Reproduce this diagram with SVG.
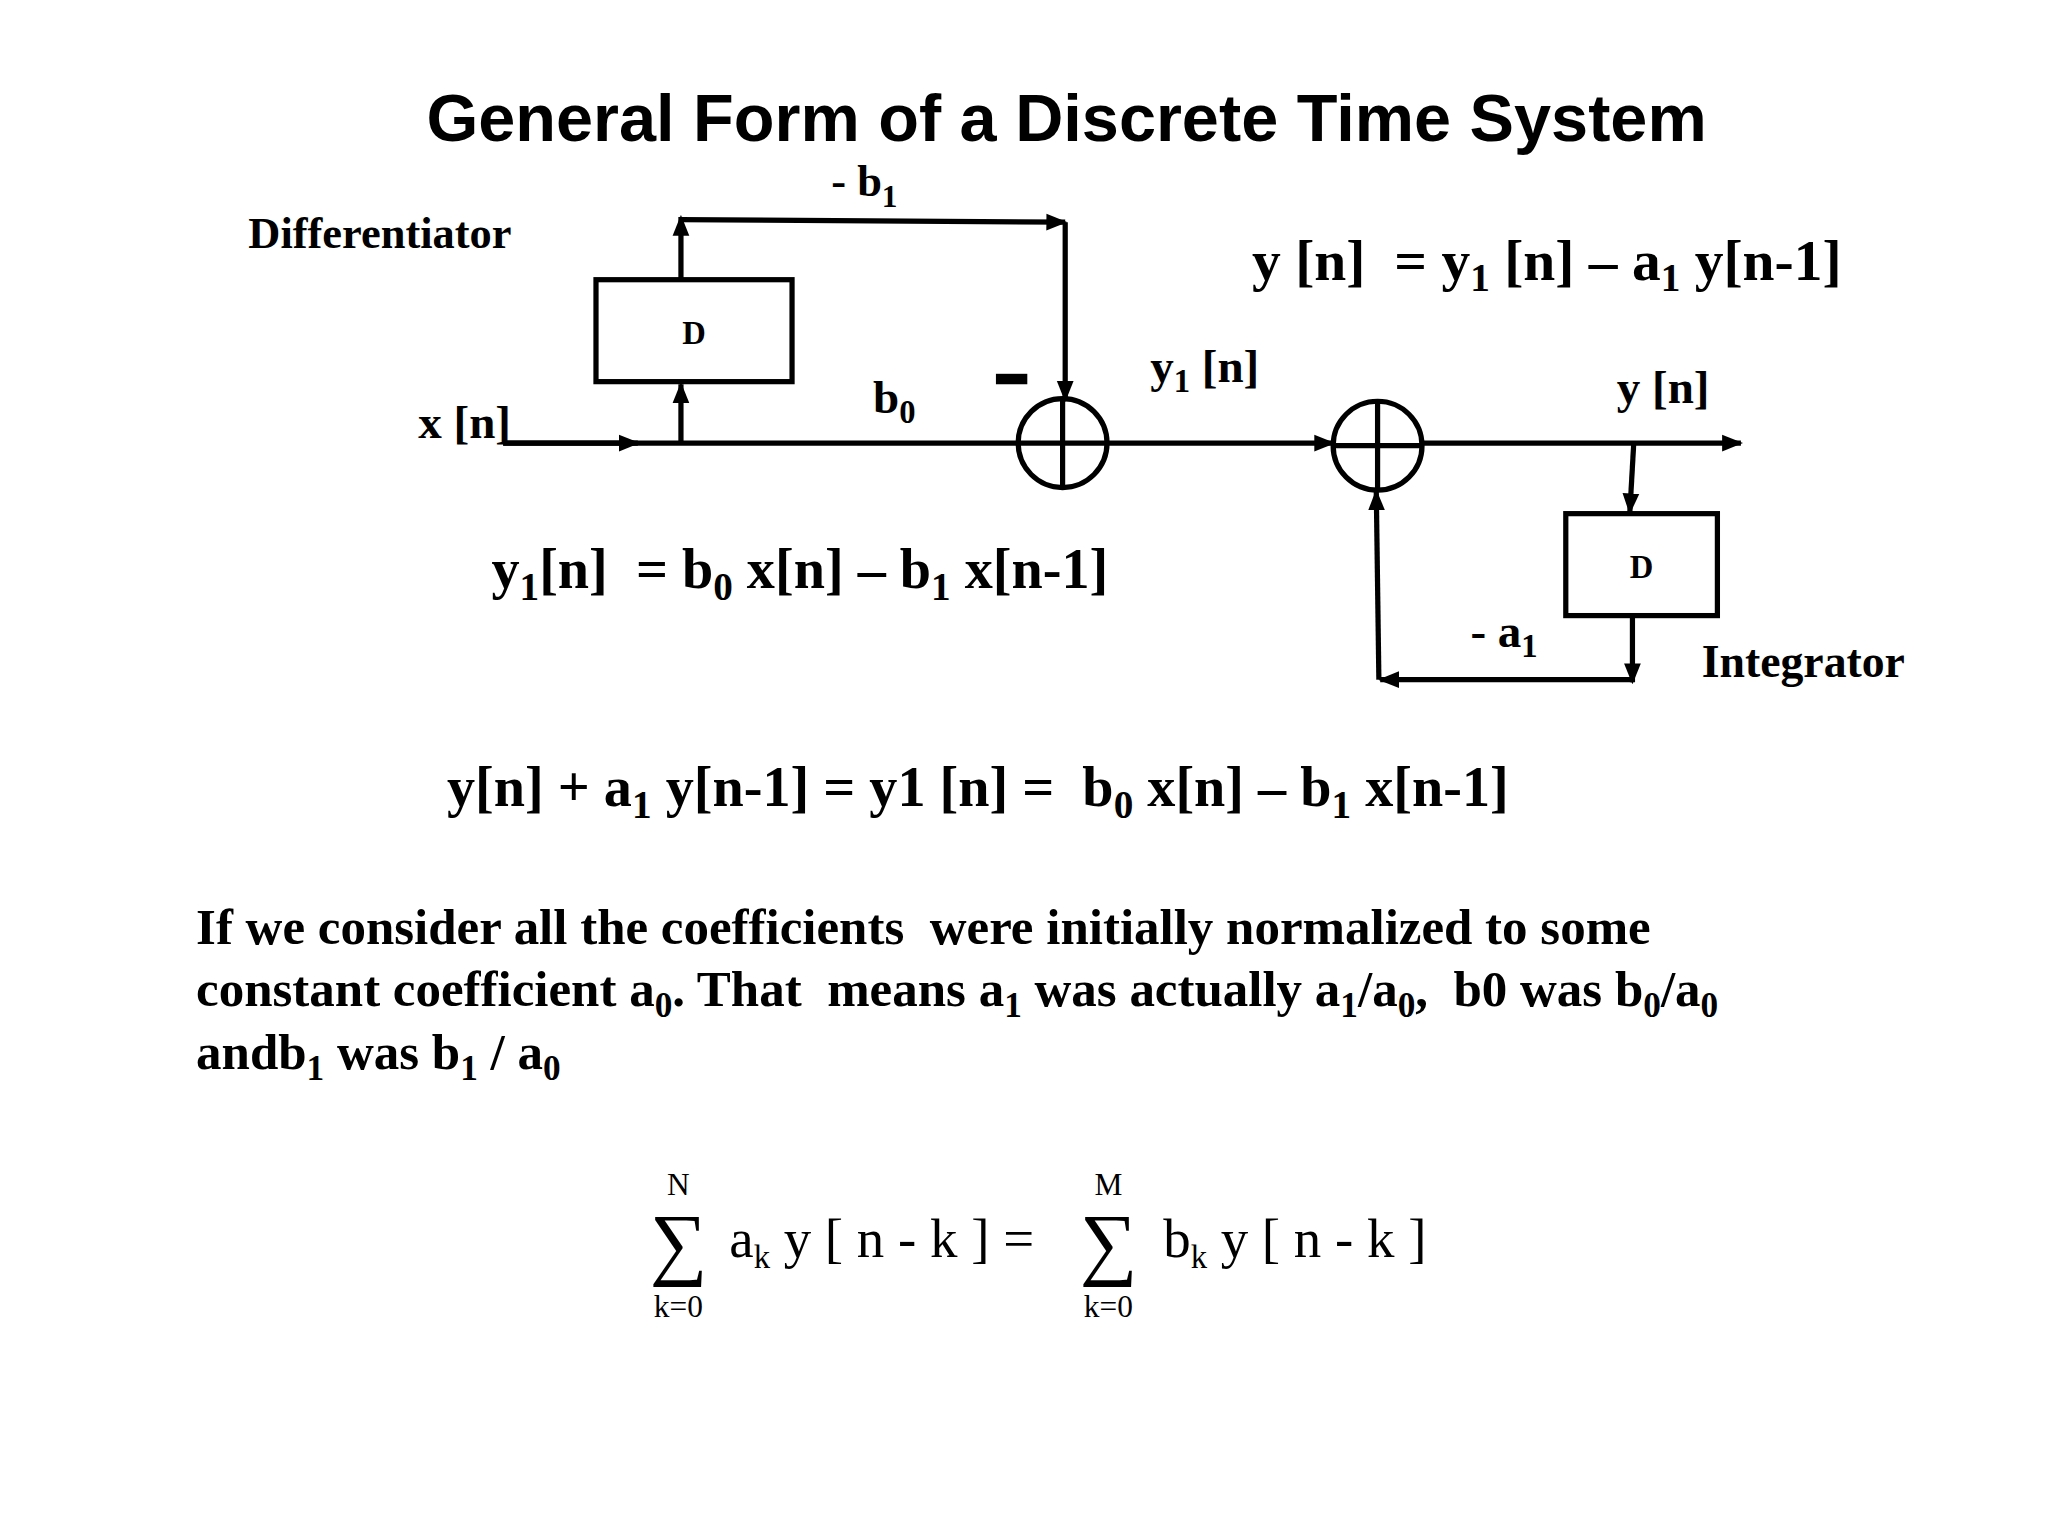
<svg xmlns="http://www.w3.org/2000/svg" width="2048" height="1536" viewBox="0 0 2048 1536">
<defs>
<marker id="ah" viewBox="0 0 10 10" refX="9" refY="5" markerWidth="4" markerHeight="4" orient="auto"><path d="M0,1 L10,5 L0,9 z" fill="#000"/></marker>
<style>
.t{font-family:"Liberation Serif",serif;font-weight:bold;fill:#000}
.r{font-family:"Liberation Serif",serif;fill:#000}
.l{stroke:#000;stroke-width:4;fill:none}
.a{stroke:#000;stroke-width:4;fill:none;marker-end:url(#ah)}
</style>
</defs>
<rect width="2048" height="1536" fill="#fff"/>
<g transform="scale(1.307)">
<text x="816" y="108" text-anchor="middle" font-family="Liberation Sans,Arial,sans-serif" font-weight="bold" font-size="51">General Form of a Discrete Time System</text>
<g id="conn">
<line class="l" x1="385" y1="339" x2="778" y2="339"/>
<line class="a" x1="385" y1="339" x2="488" y2="339"/>
<line class="a" x1="521" y1="339" x2="521" y2="294"/>
<line class="a" x1="521" y1="214" x2="521" y2="166"/>
<line class="a" x1="521" y1="168" x2="815" y2="170"/>
<line class="a" x1="815" y1="170" x2="815" y2="306"/>
<line class="a" x1="847" y1="339" x2="1020" y2="339"/>
<line class="a" x1="1088" y1="339" x2="1332" y2="339"/>
<line class="a" x1="1250" y1="339" x2="1247" y2="392"/>
<line class="a" x1="1249" y1="471" x2="1249" y2="522"/>
<line class="a" x1="1249" y1="520" x2="1056" y2="520"/>
<line class="a" x1="1055" y1="520" x2="1053" y2="376"/>
</g>
<g id="d1"><rect class="l" x="456" y="214" width="150" height="78"/><text class="t" x="531" y="263" font-size="25" text-anchor="middle">D</text></g>
<g id="d2"><rect class="l" x="1198" y="393" width="116" height="78"/><text class="t" x="1256" y="442" font-size="25" text-anchor="middle">D</text></g>
<g id="s1"><circle class="l" cx="813" cy="339" r="34"/><line class="l" x1="779" y1="339" x2="847" y2="339"/><line class="l" x1="813" y1="305" x2="813" y2="373"/></g>
<g id="s2"><circle class="l" cx="1054" cy="341" r="34"/><line class="l" x1="1020" y1="341" x2="1088" y2="341"/><line class="l" x1="1054" y1="307" x2="1054" y2="375"/></g>
<rect x="762" y="286" width="24" height="8" fill="#000"/>
<text class="t" x="636" y="150" font-size="34">- b<tspan font-size="24" dy="8">1</tspan></text>
<text class="t" x="190" y="190" font-size="34">Differentiator</text>
<text class="t" x="320" y="335" font-size="36">x [n]</text>
<text class="t" x="668" y="316" font-size="36">b<tspan font-size="25" dy="8">0</tspan></text>
<text class="t" x="880" y="292" font-size="36">y<tspan font-size="25" dy="8">1</tspan><tspan dy="-8"> [n]</tspan></text>
<text class="t" x="1237" y="308" font-size="36">y [n]</text>
<text class="t" x="1125" y="495" font-size="36">- a<tspan font-size="25" dy="8">1</tspan></text>
<text class="t" x="1302" y="518" font-size="35">Integrator</text>
<text class="t" x="958" y="214" font-size="44" xml:space="preserve">y [n]  = y<tspan font-size="30" dy="9">1</tspan><tspan dy="-9"> [n] – a</tspan><tspan font-size="30" dy="9">1</tspan><tspan dy="-9"> y[n-1]</tspan></text>
<text class="t" x="376" y="450" font-size="43" xml:space="preserve">y<tspan font-size="30" dy="9">1</tspan><tspan dy="-9">[n]  = b</tspan><tspan font-size="30" dy="9">0</tspan><tspan dy="-9"> x[n] – b</tspan><tspan font-size="30" dy="9">1</tspan><tspan dy="-9"> x[n-1]</tspan></text>
<text class="t" x="342" y="617" font-size="43" xml:space="preserve">y[n] + a<tspan font-size="30" dy="9">1</tspan><tspan dy="-9"> y[n-1] = y1 [n] =  b</tspan><tspan font-size="30" dy="9">0</tspan><tspan dy="-9"> x[n] – b</tspan><tspan font-size="30" dy="9">1</tspan><tspan dy="-9"> x[n-1]</tspan></text>
<text class="t" x="150" y="722" font-size="39" xml:space="preserve">If we consider all the coefficients  were initially normalized to some</text>
<text class="t" x="150" y="770" font-size="39" xml:space="preserve">constant coefficient a<tspan font-size="27" dy="8">0</tspan><tspan dy="-8">. That  means a</tspan><tspan font-size="27" dy="8">1</tspan><tspan dy="-8"> was actually a</tspan><tspan font-size="27" dy="8">1</tspan><tspan dy="-8">/a</tspan><tspan font-size="27" dy="8">0</tspan><tspan dy="-8">,  b0 was b</tspan><tspan font-size="27" dy="8">0</tspan><tspan dy="-8">/a</tspan><tspan font-size="27" dy="8">0</tspan></text>
<text class="t" x="150" y="818" font-size="39" xml:space="preserve">andb<tspan font-size="27" dy="8">1</tspan><tspan dy="-8"> was b</tspan><tspan font-size="27" dy="8">1</tspan><tspan dy="-8"> / a</tspan><tspan font-size="27" dy="8">0</tspan></text>
<text class="r" x="519" y="914" font-size="24" text-anchor="middle">N</text>
<text class="r" x="519" y="972" font-size="62" text-anchor="middle">∑</text>
<text class="r" x="519" y="1008" font-size="24" text-anchor="middle">k=0</text>
<text class="r" x="558" y="962" font-size="42" xml:space="preserve">a<tspan font-size="25" dy="8">k</tspan><tspan dy="-8"> y [ n - k ] =</tspan></text>
<text class="r" x="848" y="914" font-size="24" text-anchor="middle">M</text>
<text class="r" x="848" y="972" font-size="62" text-anchor="middle">∑</text>
<text class="r" x="848" y="1008" font-size="24" text-anchor="middle">k=0</text>
<text class="r" x="890" y="962" font-size="42" xml:space="preserve">b<tspan font-size="25" dy="8">k</tspan><tspan dy="-8"> y [ n - k ]</tspan></text>
</g>
</svg>
